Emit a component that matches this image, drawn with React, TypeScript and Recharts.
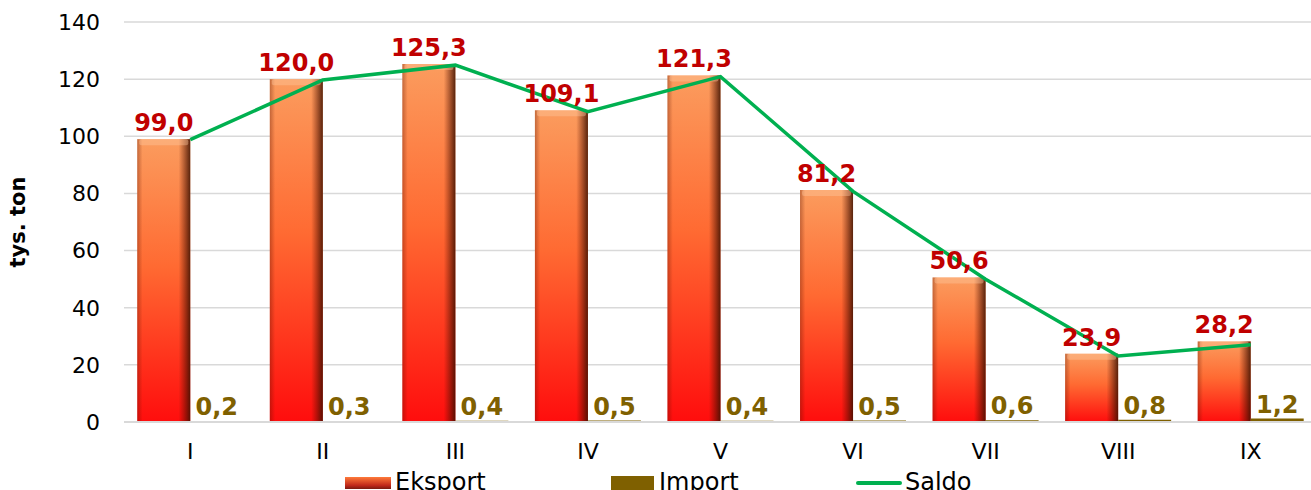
import React from 'react';
import {
  ComposedChart, Bar, Line, XAxis, YAxis, CartesianGrid, LabelList
} from 'recharts';

const months = ['I', 'II', 'III', 'IV', 'V', 'VI', 'VII', 'VIII', 'IX'];
const eksport = [99.0, 120.0, 125.3, 109.1, 121.3, 81.2, 50.6, 23.9, 28.2];
const importVals = [0.2, 0.3, 0.4, 0.5, 0.4, 0.5, 0.6, 0.8, 1.2];
const saldo = [98.8, 119.7, 124.9, 108.6, 120.9, 80.7, 50.0, 23.1, 27.0];
const yTicks = [0, 20, 40, 60, 80, 100, 120, 140];

const data = months.map((m, i) => ({
  month: m,
  eksport: eksport[i],
  import: importVals[i],
  saldo: saldo[i],
}));

const fmt = (v: any) => Number(v).toFixed(1).replace('.', ',');

const EksportShape = (props: any) => {
  const { x, y, width, height } = props;
  if (!height || height <= 0) return null;
  return (
    <g>
      <rect x={x} y={y} width={width} height={height} fill="url(#eksGrad)" />
      <rect x={x} y={y} width={width} height={height} fill="url(#eksShade)" />
      <rect x={x + 2} y={y} width={width - 4} height={Math.min(6, height)} rx={2} fill="#ffc9a0" opacity={0.4} />
    </g>
  );
};

function LegendBox() {
  const txt: React.CSSProperties = { position: 'absolute', top: 0, fontSize: 24, lineHeight: '28px', color: '#000' };
  return (
    <div style={{ position: 'relative', width: 1317, height: 28 }}>
      <div style={{ position: 'absolute', left: 345, top: 9, width: 46, height: 12, background: 'linear-gradient(#ff7a3a, #c0281a 70%, #7a1a10)' }} />
      <span style={{ ...txt, left: 395 }}>Eksport</span>
      <div style={{ position: 'absolute', left: 611, top: 8, width: 43, height: 14, background: '#7f6000' }} />
      <span style={{ ...txt, left: 659 }}>Import</span>
      <div style={{ position: 'absolute', left: 856, top: 13, width: 46, height: 4, borderRadius: 2, background: '#00b050' }} />
      <span style={{ ...txt, left: 905 }}>Saldo</span>
    </div>
  );
}

export default function App() {
  return (
    <div style={{ position: 'absolute', left: 0, top: 0, width: 1311, height: 490, overflow: 'hidden', fontFamily: 'DejaVu Sans', background: '#fff' }}>
      <ComposedChart
        width={1317}
        height={490}
        data={data}
        margin={{ top: 22, right: 0, bottom: 28, left: 0 }}
        barCategoryGap="10%"
        barGap={0}
      >
        <defs>
          <linearGradient id="eksGrad" x1="0" y1="0" x2="0" y2="1">
            <stop offset="0%" stopColor="#fb9c5e" />
            <stop offset="45%" stopColor="#ff6a32" />
            <stop offset="100%" stopColor="#ff0d0d" />
          </linearGradient>
          <linearGradient id="eksShade" x1="0" y1="0" x2="1" y2="0">
            <stop offset="0%" stopColor="#5a1000" stopOpacity={0.35} />
            <stop offset="10%" stopColor="#5a1000" stopOpacity={0} />
            <stop offset="78%" stopColor="#5a1000" stopOpacity={0} />
            <stop offset="100%" stopColor="#3a1000" stopOpacity={0.85} />
          </linearGradient>
        </defs>
        <CartesianGrid vertical={false} stroke="#d9d9d9" strokeWidth={1.5} />
        <XAxis
          dataKey="month"
          height={40}
          tickLine={false}
          axisLine={{ stroke: '#d9d9d9', strokeWidth: 2 }}
          tick={{ fill: '#000', fontSize: 22 }}
          tickSize={0}
          tickMargin={21}
        />
        <YAxis
          width={124}
          domain={[0, 140]}
          ticks={yTicks}
          tickLine={false}
          axisLine={false}
          tick={{ fill: '#000', fontSize: 22 }}
          tickSize={0}
          tickMargin={24}
          label={{ value: 'tys. ton', angle: -90, position: 'insideLeft', offset: 18, style: { textAnchor: 'middle', fontWeight: 'bold', fontSize: 21, fill: '#000' } }}
        />
        <Bar dataKey="eksport" name="Eksport" shape={EksportShape} isAnimationActive={false}>
          <LabelList dataKey="eksport" position="top" offset={8} formatter={fmt} style={{ fill: '#c00000', fontWeight: 'bold', fontSize: 24 }} />
        </Bar>
        <Bar dataKey="import" name="Import" fill="#7f6000" isAnimationActive={false}>
          <LabelList dataKey="import" position="top" offset={6} formatter={fmt} style={{ fill: '#7f6000', fontWeight: 'bold', fontSize: 24 }} />
        </Bar>
        <Line dataKey="saldo" name="Saldo" stroke="#00b050" strokeWidth={3.5} dot={false} isAnimationActive={false} />
      </ComposedChart>
      <div style={{ position: 'absolute', left: 0, top: 468 }}>
        <LegendBox />
      </div>
    </div>
  );
}
